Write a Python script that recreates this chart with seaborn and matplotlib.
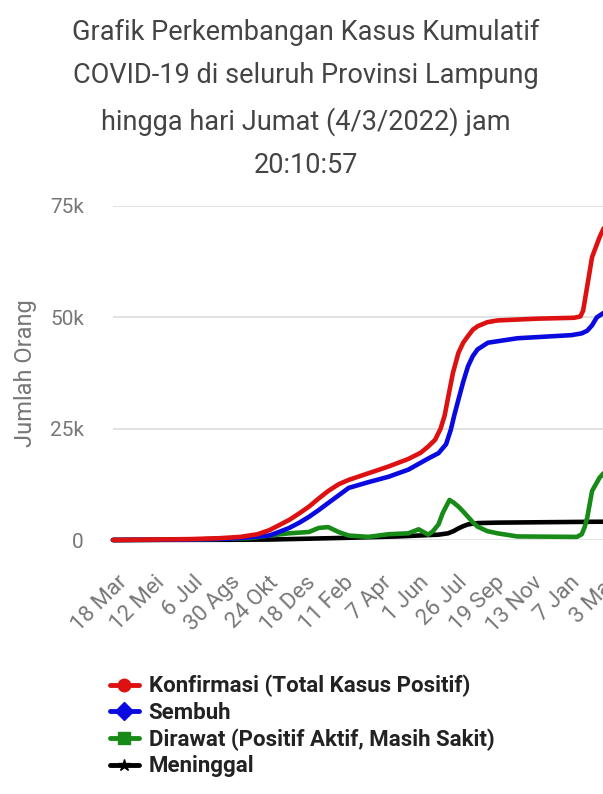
import matplotlib
matplotlib.use('Agg')
import matplotlib.pyplot as plt
import matplotlib.ticker as mtick
import matplotlib.transforms as mtrans
from matplotlib.lines import Line2D
import pandas as pd
import seaborn as sns

# ── Data ──────────────────────────────────────────────────────────────────────
konf_dates = ['2020-03-18', '2020-05-11', '2020-07-08', '2020-08-20', '2020-09-20',
              '2020-10-15', '2020-11-01', '2020-11-15', '2020-11-30', '2020-12-15',
              '2020-12-29', '2021-01-12', '2021-01-26', '2021-02-10', '2021-02-25',
              '2021-03-26', '2021-04-24', '2021-05-23', '2021-06-10', '2021-06-21',
              '2021-07-01', '2021-07-09', '2021-07-15', '2021-07-20', '2021-07-27',
              '2021-08-04', '2021-08-11', '2021-08-18', '2021-08-25', '2021-09-01',
              '2021-09-15', '2021-09-30', '2021-11-27', '2022-01-20', '2022-01-29',
              '2022-02-02', '2022-02-08', '2022-02-15', '2022-02-26', '2022-03-04']
konf_vals = [0, 100, 200, 400, 700,
             1300, 2200, 3300, 4500, 6000,
             7500, 9300, 11000, 12500, 13500,
             15000, 16500, 18200, 19600, 21000,
             22500, 25000, 28000, 32000, 37500,
             42000, 44300, 45800, 47200, 48000,
             48900, 49300, 49700, 49900, 50200,
             51500, 57000, 63500, 68000, 70000]

semb_dates = ['2020-03-18', '2020-07-08', '2020-09-04', '2020-10-03', '2020-11-01',
              '2020-11-15', '2020-11-30', '2020-12-15', '2020-12-29', '2021-01-12',
              '2021-01-26', '2021-02-10', '2021-02-25', '2021-03-26', '2021-04-24',
              '2021-05-23', '2021-06-21', '2021-07-06', '2021-07-17', '2021-07-24',
              '2021-07-29', '2021-08-04', '2021-08-11', '2021-08-18', '2021-08-25',
              '2021-09-01', '2021-09-16', '2021-10-29', '2022-01-16', '2022-01-31',
              '2022-02-08', '2022-02-15', '2022-02-22', '2022-03-04']
semb_vals = [0, 100, 300, 600, 1000,
             1800, 2700, 3900, 5200, 6700,
             8300, 10000, 11700, 13000, 14200,
             15800, 18300, 19500, 21500, 24800,
             28000, 31500, 35500, 39000, 41300,
             42800, 44300, 45300, 46000, 46400,
             47000, 48200, 50000, 51000]

raw_dates = ['2020-03-18', '2020-07-08', '2020-09-04', '2020-10-03', '2020-11-01',
             '2020-11-30', '2020-12-29', '2021-01-12', '2021-01-26', '2021-02-10',
             '2021-02-25', '2021-03-26', '2021-04-24', '2021-05-23', '2021-06-07',
             '2021-06-21', '2021-06-28', '2021-07-06', '2021-07-12', '2021-07-22',
             '2021-07-28', '2021-08-04', '2021-08-11', '2021-08-18', '2021-08-25',
             '2021-09-01', '2021-09-15', '2021-09-30', '2021-10-29', '2022-01-24',
             '2022-01-31', '2022-02-04', '2022-02-08', '2022-02-15', '2022-02-26',
             '2022-03-04']
raw_vals = [0, 100, 300, 400, 1000,
            1500, 1800, 2700, 2900, 1800,
            1000, 700, 1300, 1500, 2400,
            1200, 2000, 3500, 6000, 9000,
            8400, 7500, 6400, 5200, 4000,
            3000, 2000, 1500, 800, 700,
            1300, 2800, 5000, 11000, 14000,
            15000]

men_dates = ['2020-03-18', '2020-09-04', '2020-11-01', '2020-12-29', '2021-02-25',
             '2021-05-08', '2021-07-06', '2021-07-20', '2021-07-28', '2021-08-04',
             '2021-08-11', '2021-08-18', '2021-09-01', '2021-09-30', '2022-02-22',
             '2022-03-04']
men_vals = [0, 50, 100, 300, 500,
            800, 1200, 1500, 2000, 2600,
            3100, 3500, 3800, 3900, 4100,
            4100]

series_labels = ['Konfirmasi (Total Kasus Positif)', 'Sembuh',
                 'Dirawat (Positif Aktif, Masih Sakit)', 'Meninggal']
series_colors = ['#dd1111', '#0a0ae0', '#178a17', '#000000']
series_markers = ['o', 'D', 's', '*']

tick_dates = ['2020-03-18', '2020-05-12', '2020-07-06', '2020-08-30', '2020-10-24',
              '2020-12-18', '2021-02-11', '2021-04-07', '2021-06-01', '2021-07-26',
              '2021-09-19', '2021-11-13', '2022-01-07', '2022-03-03']
tick_labels = ['18 Mar', '12 Mei', '6 Jul', '30 Ags', '24 Okt', '18 Des', '11 Feb',
               '7 Apr', '1 Jun', '26 Jul', '19 Sep', '13 Nov', '7 Jan', '3 Mar']

title = ('Grafik Perkembangan Kasus Kumulatif\nCOVID-19 di seluruh Provinsi Lampung\n'
         'hingga hari Jumat (4/3/2022) jam\n20:10:57')

# ── Build frame ───────────────────────────────────────────────────────────────
frames = []
for lab, d, v in zip(series_labels,
                     [konf_dates, semb_dates, raw_dates, men_dates],
                     [konf_vals, semb_vals, raw_vals, men_vals]):
    frames.append(pd.DataFrame({'tanggal': pd.to_datetime(d), 'jumlah': v, 'seri': lab}))
df = pd.concat(frames, ignore_index=True)

sns.set_theme(style='white')
plt.rcParams['font.family'] = ['Roboto', 'DejaVu Sans']

fig = plt.figure(figsize=(6.03, 7.94), dpi=100)
ax = fig.add_axes([113 / 603, 254 / 794, 490 / 603, 334 / 794])

# draw in reverse so red sits on top
for lab, col in list(zip(series_labels, series_colors))[::-1]:
    sub = df[df['seri'] == lab]
    sns.lineplot(data=sub, x='tanggal', y='jumlah', color=col, linewidth=3.3,
                 ax=ax, legend=False, clip_on=False, zorder=3)

ax.set_ylim(0, 75000)
ax.set_xlim(pd.Timestamp('2020-03-18'), pd.Timestamp('2022-02-26'))
ax.set_yticks([0, 25000, 50000, 75000])
ax.yaxis.set_major_formatter(mtick.FuncFormatter(
    lambda v, p: '0' if v == 0 else f'{int(v / 1000)}k'))
ax.grid(axis='y', color='#e2e2e2', linewidth=1.4)
ax.grid(axis='x', visible=False)
for s in ax.spines.values():
    s.set_visible(False)

ax.set_xticks(pd.to_datetime(tick_dates))
ax.set_xticklabels(tick_labels, rotation=45, ha='right', rotation_mode='anchor')
ax.tick_params(axis='both', length=0, labelcolor='#777777')
ax.tick_params(axis='x', pad=23, labelsize=16)
ax.tick_params(axis='y', pad=21, labelsize=15)
# nudge the slanted labels a few pixels right, like the original
shift = mtrans.ScaledTranslation(4 / 100, 0, fig.dpi_scale_trans)
for lbl in ax.get_xticklabels():
    lbl.set_transform(lbl.get_transform() + shift)
ax.set_xlabel('')
ax.set_ylabel('Jumlah Orang', color='#777777', fontsize=17, labelpad=9)

fig.text(0.507, 0.976, title, ha='center', va='top', fontsize=19.5,
         color='#444444', linespacing=1.78)

handles = [Line2D([], [], color=c, marker=m, linewidth=3.5, markersize=9)
           for c, m in zip(series_colors, series_markers)]
fig.legend(handles, series_labels, loc='upper left', bbox_to_anchor=(0.182, 0.15),
           frameon=False, handlelength=1.3, handletextpad=0.45, labelspacing=0.2,
           borderaxespad=0, borderpad=0,
           prop={'weight': 'bold', 'size': 16}, labelcolor='#222222')

fig.savefig('out.png', dpi=100)
